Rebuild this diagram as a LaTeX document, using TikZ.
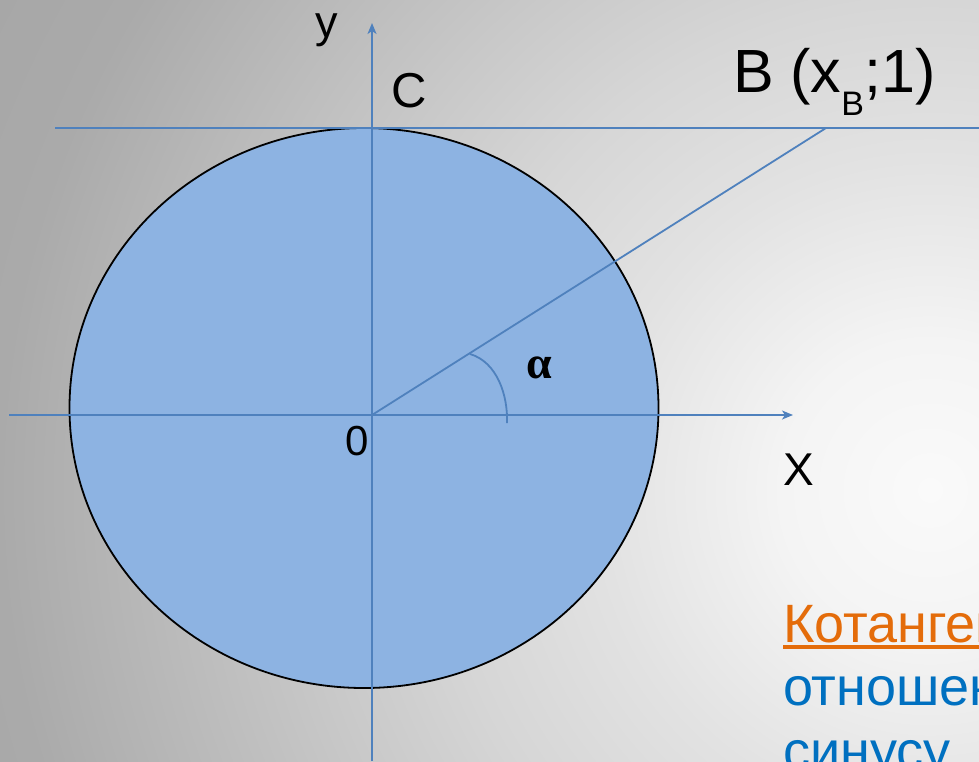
\documentclass[tikz,border=0pt]{standalone}
\usepackage{fontspec}
\setmainfont{Liberation Sans}
\newfontfamily\alphafont{Liberation Serif}
\usetikzlibrary{arrows.meta,calc}
\definecolor{fillblue}{HTML}{8DB3E2}
\definecolor{lineblue}{HTML}{4F81BD}
\definecolor{orangetext}{HTML}{E46C0A}
\definecolor{bluetext}{HTML}{0070C0}
\definecolor{bga}{HTML}{FAFAFA}
\definecolor{bgb}{HTML}{F4F4F4}
\definecolor{bgc}{HTML}{E2E2E2}
\definecolor{bgd}{HTML}{D6D6D6}
\definecolor{bge}{HTML}{C9C9C9}
\definecolor{bgf}{HTML}{AAAAAA}
\definecolor{bgg}{HTML}{A6A6A6}
\pgfdeclareradialshading{bgshade}{\pgfpoint{0bp}{0bp}}{color(0bp)=(bga); color(3.1bp)=(bgb); color(6.9bp)=(bgc); color(10.2bp)=(bgd); color(13bp)=(bge); color(19.4bp)=(bgf); color(22.9bp)=(bgg); color(50bp)=(bgg)}
\tikzset{
  axisline/.style={draw=lineblue, line width=1.8pt},
  axisarrow/.style={axisline, -{Stealth[length=11pt,width=9pt,inset=3pt]}},
  lbl/.style={inner sep=0pt, outer sep=0pt, anchor=base west, text=black},
  bodytext/.style={inner sep=0pt, outer sep=0pt, anchor=base west, font=\fontsize{54}{64}\selectfont},
}
\begin{document}
\begin{tikzpicture}[x=1pt,y=-1pt]
\useasboundingbox (0,0) rectangle (979,761);
\clip (0,0) rectangle (979,761);
\fill[bgg] (0,0) rectangle (979,761);
\shade[shading=bgshade] (930,490) circle (1200pt);
% circle
\draw[fill=fillblue, draw=black, line width=1.8pt] (364,408) ellipse [x radius=294.5, y radius=280];
% coordinates
\coordinate (O) at (372,415);
\coordinate (B) at (826,128);
\coordinate (ytop) at (372,23);
\coordinate (ybot) at (372,761);
\coordinate (xl) at (9,415);
\coordinate (xr) at (793,415);
\coordinate (tl) at (55,128);
\coordinate (tr) at (979,128);
\coordinate (a1) at (470,354);
\coordinate (a2) at (497,362);
\coordinate (a3) at (508,395);
\coordinate (a4) at (507,423);
% lines
\draw[axisarrow] (ybot) -- (ytop);
\draw[axisarrow] (xl) -- (xr);
\draw[axisline] (tl) -- (tr);
\draw[axisline] (O) -- (B);
\draw[axisline] (a1) .. controls (a2) and (a3) .. (a4);
% labels
\node[lbl, font=\fontsize{45}{54}\selectfont] (ylab) at (315,37) {y};
\node[lbl, font=\fontsize{49}{58}\selectfont] (clab) at (391,107) {C};
\node[lbl, font=\fontsize{61}{70}\selectfont] (blab) at (733,92) {B (x\raisebox{-23pt}{\fontsize{34}{34}\selectfont B};1)};
\node[lbl, font=\fontsize{42}{50}\selectfont] (olab) at (345,455) {0};
\node[lbl, font=\fontsize{46}{54}\selectfont] (xlab) at (783,485) {X};
\node[lbl, font=\alphafont\bfseries\fontsize{46}{54}\selectfont] (alab) at (526,378) {α};
% body text
\node[bodytext, text=orangetext] (kot) at (783,642) {Котангенс};
\draw[orangetext, line width=3.2pt] ($(kot.base west)+(0,5)$) -- ($(kot.base east)+(0,5)$);
\node[bodytext, text=bluetext] (otn) at (783,705) {отношение};
\node[bodytext, text=bluetext] (sin) at (783,769) {синусу};
\end{tikzpicture}
\end{document}
